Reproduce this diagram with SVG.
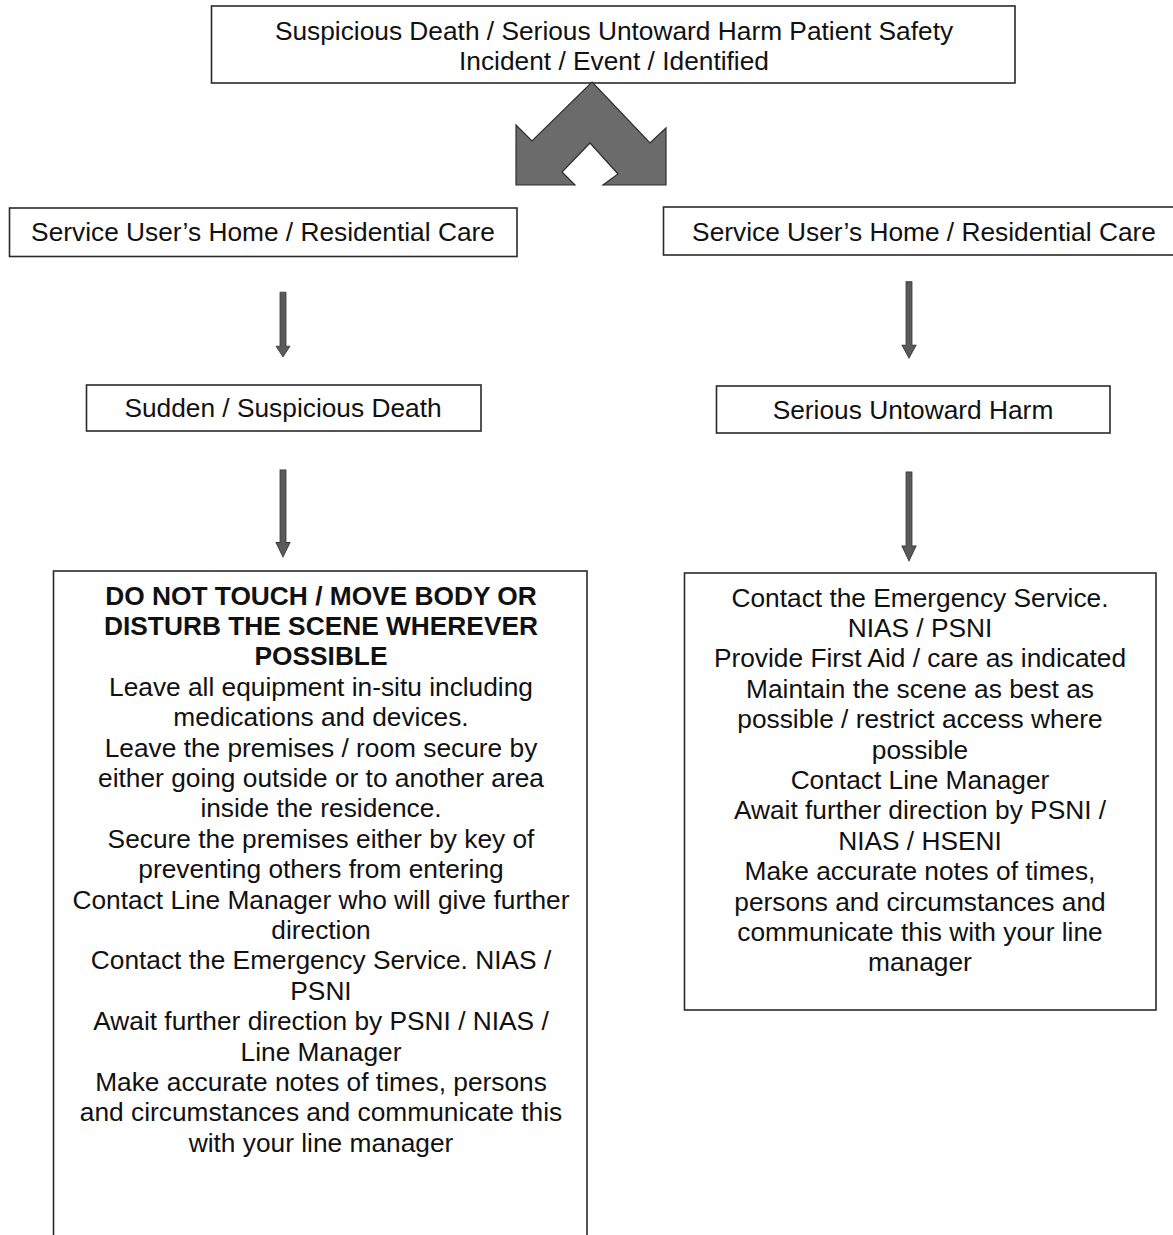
<svg xmlns="http://www.w3.org/2000/svg" width="1173" height="1235" viewBox="0 0 1173 1235">
  <style>
    .box { fill: #ffffff; stroke: #2a2a2a; stroke-width: 1.6; }
    .t { font-family: "Liberation Sans", Arial, sans-serif; font-size: 26.3px; fill: #111111; text-anchor: middle; }
    .b { font-weight: bold; }
    .shaft { fill: #5a5a5a; stroke: #3a3a3a; stroke-width: 0.8; }
  </style>
  <defs>
    <!-- thin downward block arrow, drawn at origin (tip at 0,0) -->
    <path id="down" d="M -3 -60 L 3 -60 L 3 -10 L 7 -10 L 0 0 L -7 -10 L -3 -10 Z"/>
  </defs>
  <rect width="1173" height="1235" fill="#ffffff"/>

  <g id="node-incident">
    <rect class="box" x="211.5" y="6" width="803.5" height="77"/>
    <text class="t" x="614" y="40">Suspicious Death / Serious Untoward Harm Patient Safety</text>
    <text class="t" x="614" y="70">Incident / Event / Identified</text>
  </g>

  <g id="node-home-left">
    <rect class="box" x="9.5" y="208" width="507.5" height="48.5"/>
    <text class="t" x="263" y="241">Service User’s Home / Residential Care</text>
  </g>

  <g id="node-home-right">
    <rect class="box" x="663.5" y="207" width="515" height="48"/>
    <text class="t" x="924" y="241">Service User’s Home / Residential Care</text>
  </g>

  <g id="node-death">
    <rect class="box" x="86.5" y="385" width="394.5" height="46"/>
    <text class="t" x="283" y="417">Sudden / Suspicious Death</text>
  </g>

  <g id="node-harm">
    <rect class="box" x="716.5" y="386" width="393.5" height="47"/>
    <text class="t" x="913" y="419">Serious Untoward Harm</text>
  </g>

  <g id="node-death-actions">
    <rect class="box" x="53.5" y="571" width="533.5" height="680"/>
    <text class="t b" x="321" y="604.5">DO NOT TOUCH / MOVE BODY OR</text>
    <text class="t b" x="321" y="634.9">DISTURB THE SCENE WHEREVER</text>
    <text class="t b" x="321" y="665.3">POSSIBLE</text>
    <text class="t" x="321" y="695.7">Leave all equipment in-situ including</text>
    <text class="t" x="321" y="726.1">medications and devices.</text>
    <text class="t" x="321" y="756.5">Leave the premises / room secure by</text>
    <text class="t" x="321" y="786.9">either going outside or to another area</text>
    <text class="t" x="321" y="817.3">inside the residence.</text>
    <text class="t" x="321" y="847.7">Secure the premises either by key of</text>
    <text class="t" x="321" y="878.1">preventing others from entering</text>
    <text class="t" x="321" y="908.5">Contact Line Manager who will give further</text>
    <text class="t" x="321" y="938.9">direction</text>
    <text class="t" x="321" y="969.3">Contact the Emergency Service. NIAS /</text>
    <text class="t" x="321" y="999.7">PSNI</text>
    <text class="t" x="321" y="1030.1">Await further direction by PSNI / NIAS /</text>
    <text class="t" x="321" y="1060.5">Line Manager</text>
    <text class="t" x="321" y="1090.9">Make accurate notes of times, persons</text>
    <text class="t" x="321" y="1121.3">and circumstances and communicate this</text>
    <text class="t" x="321" y="1151.7">with your line manager</text>
  </g>

  <g id="node-harm-actions">
    <rect class="box" x="684.5" y="573" width="471.5" height="437"/>
    <text class="t" x="920" y="606.5">Contact the Emergency Service.</text>
    <text class="t" x="920" y="636.9">NIAS / PSNI</text>
    <text class="t" x="920" y="667.3">Provide First Aid / care as indicated</text>
    <text class="t" x="920" y="697.7">Maintain the scene as best as</text>
    <text class="t" x="920" y="728.1">possible / restrict access where</text>
    <text class="t" x="920" y="758.5">possible</text>
    <text class="t" x="920" y="788.9">Contact Line Manager</text>
    <text class="t" x="920" y="819.3">Await further direction by PSNI /</text>
    <text class="t" x="920" y="849.7">NIAS / HSENI</text>
    <text class="t" x="920" y="880.1">Make accurate notes of times,</text>
    <text class="t" x="920" y="910.5">persons and circumstances and</text>
    <text class="t" x="920" y="940.9">communicate this with your line</text>
    <text class="t" x="920" y="971.3">manager</text>
  </g>

  <g id="connectors">
    <!-- split arrow from the incident box to both branches -->
    <path d="M 592 82 L 650 143 L 666 128 L 666 185 L 603 185 L 618 174 L 590 143 L 562 172 L 575 185 L 516 185 L 516 125 L 532 141 Z"
          fill="#6b6b6b" stroke="#2e2e2e" stroke-width="1.2" stroke-linejoin="miter"/>
    <use href="#down" class="shaft" transform="translate(283,357) scale(1,1.08)"/>
    <use href="#down" class="shaft" transform="translate(909,358) scale(1,1.27)"/>
    <use href="#down" class="shaft" transform="translate(283,557) scale(1,1.45)"/>
    <use href="#down" class="shaft" transform="translate(909,561) scale(1,1.48)"/>
  </g>
</svg>
